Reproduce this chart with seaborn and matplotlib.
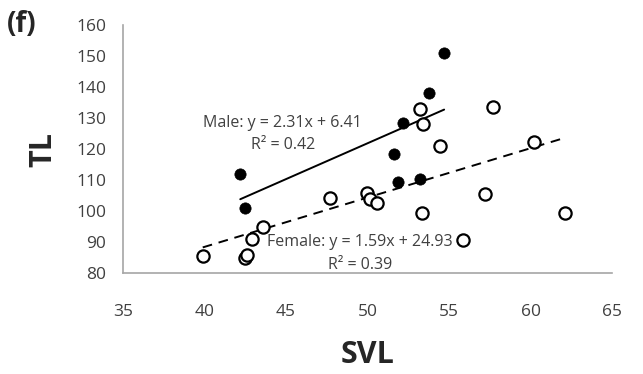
import matplotlib
matplotlib.use("Agg")
import matplotlib.pyplot as plt
import seaborn as sns
import numpy as np

# ---- data ----
male_svl = [42.2, 42.5, 51.65, 51.9, 52.15, 53.2, 53.75, 54.7]
male_tl = [111.9, 101.0, 118.6, 109.3, 128.3, 110.5, 138.0, 151.1]

female_svl = [39.9, 42.5, 42.6, 42.9, 43.6, 47.7, 50.0, 50.15, 50.6,
              53.2, 53.35, 53.4, 54.45, 55.85, 57.2, 57.7, 60.2, 62.1]
female_tl = [85.6, 84.9, 85.9, 91.1, 94.8, 104.4, 106.0, 104.0, 102.7,
             132.8, 99.4, 128.1, 121.1, 90.8, 105.6, 133.6, 122.4, 99.4]

male_fit = (2.31, 6.41, 0.42)
female_fit = (1.59, 24.93, 0.39)

x_ticks = [35, 40, 45, 50, 55, 60, 65]
y_ticks = [80, 90, 100, 110, 120, 130, 140, 150, 160]

sns.set_style("white")
plt.rcParams["font.family"] = ["Open Sans", "DejaVu Sans"]

fig, ax = plt.subplots(figsize=(6.43, 3.74), dpi=100)
fig.subplots_adjust(left=0.191, right=0.952, top=0.933, bottom=0.269)

# points
sns.scatterplot(x=female_svl, y=female_tl, ax=ax, s=78, color="white",
                edgecolor="black", linewidth=1.6, zorder=3)
sns.scatterplot(x=male_svl, y=male_tl, ax=ax, s=66, color="black",
                edgecolor="black", linewidth=0.5, zorder=4)

# trend lines over each group's range
mx = np.array([min(male_svl), max(male_svl)])
fx = np.array([min(female_svl), max(female_svl)])
sns.lineplot(x=mx, y=male_fit[0] * mx + male_fit[1], ax=ax, color="black",
             linewidth=1.4, zorder=2)
ax.plot(fx, female_fit[0] * fx + female_fit[1], color="black",
        linewidth=1.4, linestyle=(0, (5, 3.5)), zorder=2)

# equation labels
lab = dict(ha="center", va="center", fontsize=11.5, color="#404040")
ax.text(44.8, 128.4, f"Male: y = {male_fit[0]}x + {male_fit[1]}", **lab)
ax.text(44.8, 121.3, f"R² = {male_fit[2]}", **lab)
ax.text(49.56, 90.2, f"Female: y = {female_fit[0]}x + {female_fit[1]}", **lab)
ax.text(49.56, 82.7, f"R² = {female_fit[2]}", **lab)

ax.set_xlim(35, 65)
ax.set_ylim(80, 160)
ax.set_xticks(x_ticks)
ax.set_yticks(y_ticks)
ax.tick_params(axis="both", length=0, labelsize=12.5, labelcolor="#404040")
ax.tick_params(axis="x", pad=22)
ax.tick_params(axis="y", pad=12)

for side in ["top", "right"]:
    ax.spines[side].set_visible(False)
for side in ["left", "bottom"]:
    ax.spines[side].set_color("#a6a6a6")
    ax.spines[side].set_linewidth(1.2)

ax.set_xlabel("SVL", fontsize=22, fontweight="bold", va="center",
              color="#262626")
ax.set_ylabel("TL", fontsize=22, fontweight="bold", va="center",
              color="#262626")
ax.xaxis.set_label_coords(0.5, -0.33)
ax.yaxis.set_label_coords(-0.163, 0.5)

fig.text(22 / 643, 1 - 25 / 374, "(f)", ha="center", va="center",
         fontsize=20, fontweight="bold")

plt.savefig("out.png", dpi=100)
plt.close()
